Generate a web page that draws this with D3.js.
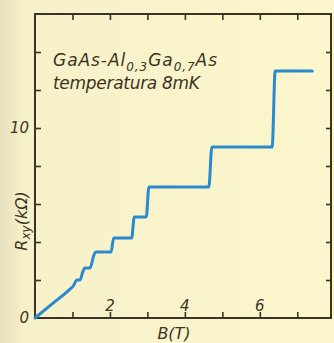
<!DOCTYPE html>
<html>
<head>
<meta charset="utf-8">
<script src="https://cdn.jsdelivr.net/npm/d3@7"></script>
<style>
  body { margin: 0; background: #f8f3c8; }
  svg { display: block; }
</style>
</head>
<body>
<div id="chart"></div>
<script>
// Hall resistance vs magnetic field
const fieldT = [0, 0.45, 0.92, 1.02, 1.12, 1.2, 1.28, 1.33, 1.47, 1.57, 1.62, 2.03, 2.1, 2.58, 2.65, 2.97, 3.04, 4.64, 4.72, 6.33, 6.41, 7.4];
const rxyKOhm = [0, 0.73, 1.49, 1.68, 2.0, 2.0, 2.45, 2.63, 2.63, 3.3, 3.47, 3.47, 4.21, 4.21, 5.32, 5.32, 6.9, 6.9, 9.0, 9.0, 13.0, 13.0];
const xTicks = [1, 2, 3, 4, 5, 6, 7];
const xTickLabels = [2, 4, 6];
const yTicks = [2, 4, 6, 8, 10, 12, 14];
const yTickLabels = [10];

const width = 334, height = 343;
const ink = '#3b3325';

const svg = d3.select('#chart').append('svg')
  .attr('width', width)
  .attr('height', height);

// paper tone, a bit darker at the left edge
const grad = svg.append('defs').append('linearGradient').attr('id', 'paper');
grad.append('stop').attr('offset', '0%').attr('stop-color', '#e6dfbf');
grad.append('stop').attr('offset', '7%').attr('stop-color', '#f6f1c8');
grad.append('stop').attr('offset', '100%').attr('stop-color', '#fbf6cc');
svg.append('rect').attr('width', width).attr('height', height).attr('fill', 'url(#paper)');

const x = d3.scaleLinear().domain([0, 7.9]).range([35, 331]);
const y = d3.scaleLinear().domain([0, 16]).range([318, 14]);

// frame
svg.append('rect')
  .attr('x', x(0)).attr('y', y(16))
  .attr('width', x(7.9) - x(0)).attr('height', y(0) - y(16))
  .attr('fill', 'none').attr('stroke', ink).attr('stroke-width', 2);

// ticks pointing inward
const tickLen = 6;
const bottomAxis = d3.axisTop(x).tickValues(xTicks).tickSize(tickLen).tickFormat('');
const topAxis = d3.axisBottom(x).tickValues(xTicks).tickSize(tickLen).tickFormat('');
const leftAxis = d3.axisRight(y).tickValues(yTicks).tickSize(tickLen).tickFormat('');
const rightAxis = d3.axisLeft(y).tickValues(yTicks).tickSize(tickLen - 1).tickFormat('');

svg.append('g').attr('transform', `translate(0,${y(0)})`).call(bottomAxis);
svg.append('g').attr('transform', `translate(0,${y(16)})`).call(topAxis);
svg.append('g').attr('transform', `translate(${x(0)},0)`).call(leftAxis);
svg.append('g').attr('transform', `translate(${x(7.9)},0)`).call(rightAxis);
svg.selectAll('.domain').remove();
svg.selectAll('.tick line').attr('stroke', ink).attr('stroke-width', 1.6);

const label = sel => sel
  .attr('fill', ink)
  .attr('font-family', 'DejaVu Sans, sans-serif')
  .attr('font-style', 'italic');

// tick labels
svg.selectAll('.xlab')
  .data(xTickLabels)
  .enter().append('text')
  .call(label)
  .attr('x', d => x(d))
  .attr('y', 311)
  .attr('text-anchor', 'middle')
  .attr('font-size', 15)
  .text(d => d);

svg.selectAll('.ylab')
  .data(yTickLabels)
  .enter().append('text')
  .call(label)
  .attr('x', 29)
  .attr('y', d => y(d) + 5)
  .attr('text-anchor', 'end')
  .attr('font-size', 15)
  .text(d => d);

svg.append('text').call(label)
  .attr('x', 29).attr('y', 323)
  .attr('text-anchor', 'end')
  .attr('font-size', 15)
  .text('0');

// axis titles
svg.append('text').call(label)
  .attr('x', 174).attr('y', 339)
  .attr('text-anchor', 'middle')
  .attr('font-size', 16)
  .text('B(T)');

const yTitle = svg.append('text').call(label)
  .attr('transform', 'translate(27,221) rotate(-90)')
  .attr('text-anchor', 'middle')
  .attr('font-size', 16);
yTitle.append('tspan').text('R');
yTitle.append('tspan').attr('font-size', 12).attr('dy', 3).text('xy');
yTitle.append('tspan').attr('dy', -3).text('(kΩ)');

// annotation
const t1 = svg.append('text').call(label)
  .attr('x', 53).attr('y', 66)
  .attr('font-size', 17)
  .attr('textLength', 164)
  .attr('lengthAdjust', 'spacing');
t1.append('tspan').text('GaAs-Al');
t1.append('tspan').attr('font-size', 12).attr('dy', 5).text('0,3');
t1.append('tspan').attr('dy', -5).text('Ga');
t1.append('tspan').attr('font-size', 12).attr('dy', 5).text('0,7');
t1.append('tspan').attr('dy', -5).text('As');

svg.append('text').call(label)
  .attr('x', 53).attr('y', 89)
  .attr('font-size', 17)
  .attr('textLength', 147)
  .attr('lengthAdjust', 'spacing')
  .text('temperatura 8mK');

// Hall curve
const data = fieldT.map((b, i) => ({ b: b, r: rxyKOhm[i] }));

const line = d3.line()
  .x(d => x(d.b))
  .y(d => y(d.r))
  .curve(d3.curveMonotoneX);

svg.append('path')
  .datum(data)
  .attr('fill', 'none')
  .attr('stroke', '#2a8ad0')
  .attr('stroke-width', 3)
  .attr('stroke-linecap', 'round')
  .attr('d', line);
</script>
</body>
</html>
